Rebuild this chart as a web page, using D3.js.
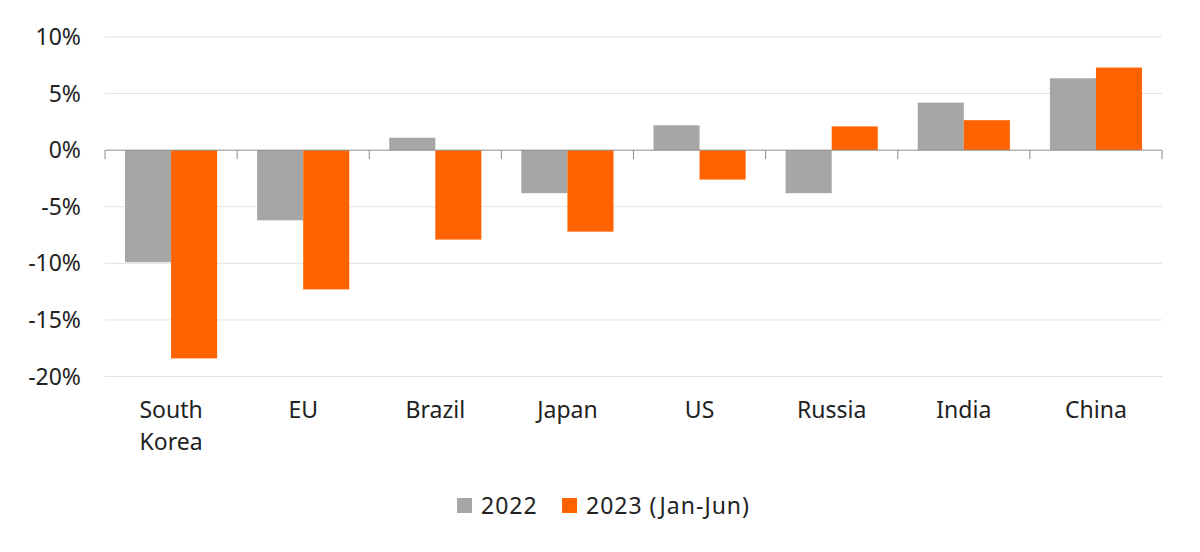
<!DOCTYPE html>
<html>
<head>
<meta charset="utf-8">
<script src="https://cdn.jsdelivr.net/npm/d3@7"></script>
<style>
  body { margin: 0; background: #fff; }
  text { font-family: "Noto Sans", "Open Sans", sans-serif; fill: #222; }
</style>
</head>
<body>
<script>
var categories = [["South", "Korea"], ["EU"], ["Brazil"], ["Japan"], ["US"], ["Russia"], ["India"], ["China"]];
var series = ["2022", "2023 (Jan-Jun)"];
var values2022 = [-9.9, -6.2, 1.1, -3.8, 2.2, -3.8, 4.2, 6.35];
var values2023 = [-18.4, -12.3, -7.9, -7.2, -2.6, 2.1, 2.65, 7.3];
var yTicks = [10, 5, 0, -5, -10, -15, -20];
var colors = ["#a6a6a6", "#ff6200"];

function init() {
    var w = 1200, h = 552;
    var left = 105, right = 1162, top = 37, bottom = 376.5;

    var svg = d3.select("body").append("svg")
        .attr("width", w)
        .attr("height", h);

    var x0 = d3.scaleBand()
        .domain(d3.range(categories.length))
        .range([left, right]);

    var x1 = d3.scaleBand()
        .domain(d3.range(series.length))
        .range([20, x0.bandwidth() - 20]);

    var y = d3.scaleLinear()
        .domain([-20, 10])
        .range([bottom, top]);

    // gridlines
    svg.append("g")
        .selectAll("line")
        .data(yTicks.filter(function(d) { return d !== 0; }))
        .enter()
        .append("line")
        .attr("x1", left)
        .attr("x2", right)
        .attr("y1", function(d) { return y(d); })
        .attr("y2", function(d) { return y(d); })
        .attr("stroke", "#e2e2e2")
        .attr("stroke-width", 1);

    // y labels
    svg.append("g")
        .selectAll("text")
        .data(yTicks)
        .enter()
        .append("text")
        .attr("x", 81)
        .attr("y", function(d) { return y(d); })
        .attr("dy", "0.35em")
        .attr("text-anchor", "end")
        .attr("font-size", 23)
        .text(function(d) { return d + "%"; });

    // bars
    var data = [values2022, values2023];
    var groups = svg.append("g")
        .selectAll("g")
        .data(categories)
        .enter()
        .append("g")
        .attr("transform", function(d, i) { return "translate(" + x0(i) + ",0)"; });

    groups.selectAll("rect")
        .data(function(d, i) {
            return data.map(function(s, j) { return { s: j, v: s[i] }; });
        })
        .enter()
        .append("rect")
        .attr("x", function(d) { return x1(d.s); })
        .attr("width", x1.bandwidth())
        .attr("y", function(d) { return y(Math.max(0, d.v)); })
        .attr("height", function(d) { return Math.abs(y(d.v) - y(0)); })
        .attr("fill", function(d) { return colors[d.s]; });

    // zero axis line + ticks
    svg.append("line")
        .attr("x1", left)
        .attr("x2", right)
        .attr("y1", y(0))
        .attr("y2", y(0))
        .attr("stroke", "#8c8c8c")
        .attr("stroke-width", 1);

    svg.append("g")
        .selectAll("line")
        .data(d3.range(categories.length + 1))
        .enter()
        .append("line")
        .attr("x1", function(d) { return left + d * x0.bandwidth(); })
        .attr("x2", function(d) { return left + d * x0.bandwidth(); })
        .attr("y1", y(0))
        .attr("y2", y(0) + 9)
        .attr("stroke", "#8c8c8c")
        .attr("stroke-width", 1);

    // category labels
    var labels = svg.append("g")
        .selectAll("text")
        .data(categories)
        .enter()
        .append("text")
        .attr("x", function(d, i) { return x0(i) + x0.bandwidth() / 2; })
        .attr("y", 410)
        .attr("text-anchor", "middle")
        .attr("font-size", 23);

    labels.selectAll("tspan")
        .data(function(d) { return d; })
        .enter()
        .append("tspan")
        .attr("x", function() { return d3.select(this.parentNode).attr("x"); })
        .attr("dy", function(d, i) { return i === 0 ? "0.35em" : "1.39em"; })
        .text(function(d) { return d; });

    // legend
    var legendX = [457, 562];
    var legend = svg.append("g")
        .selectAll("g")
        .data(series)
        .enter()
        .append("g")
        .attr("transform", function(d, i) { return "translate(" + legendX[i] + ",498)"; });

    legend.append("rect")
        .attr("width", 15)
        .attr("height", 15)
        .attr("fill", function(d, i) { return colors[i]; });

    legend.append("text")
        .attr("x", 24)
        .attr("y", 7.5)
        .attr("dy", "0.35em")
        .attr("font-size", 23)
        .attr("letter-spacing", 1)
        .text(function(d) { return d; });
}

window.onload = init;
</script>
</body>
</html>
